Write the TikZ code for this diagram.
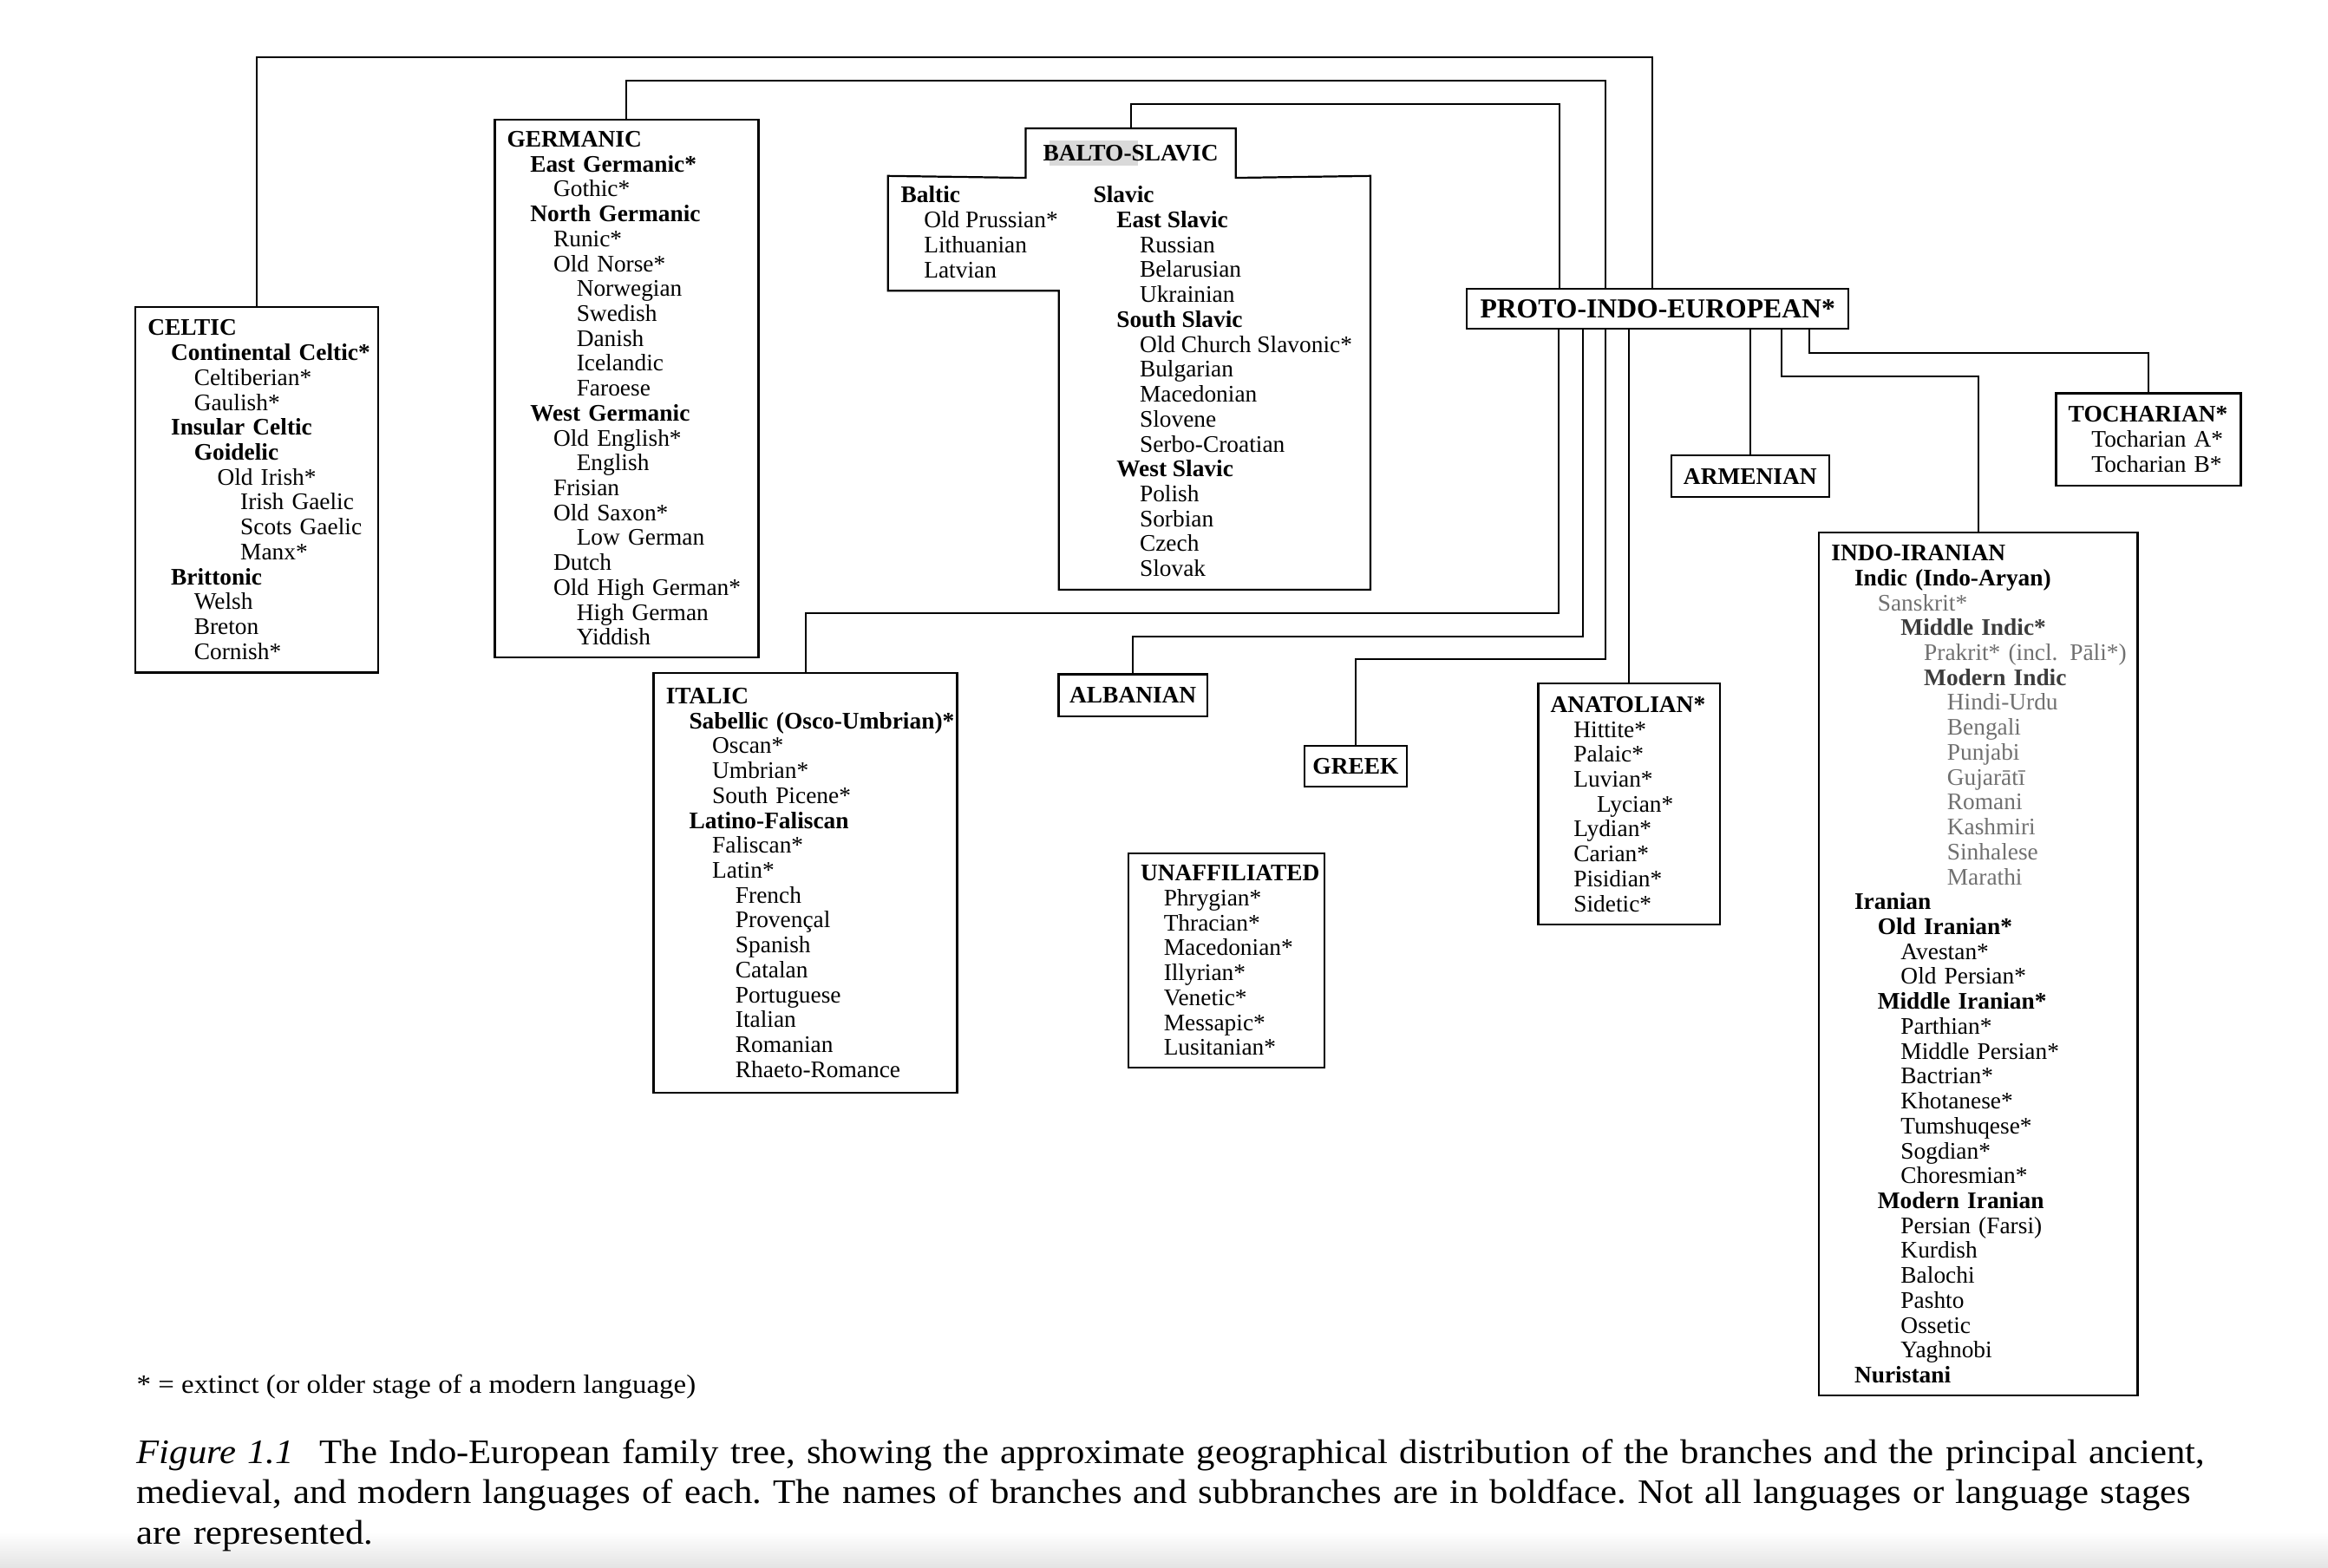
\documentclass[tikz,border=0pt]{standalone}
\usepackage{fontspec}
\setmainfont{Liberation Serif}
\newfontfamily\widefont[FakeStretch=1.08]{Liberation Serif}
\usetikzlibrary{calc}
\definecolor{cfade}{HTML}{707070}
\definecolor{cfadeb}{HTML}{3C3C3C}
\definecolor{chilite}{HTML}{D9D9D9}
\definecolor{cshadow}{HTML}{E4E4E4}
\setlength\parindent{0pt}
\newlength\indstep
\setlength\indstep{15.6pt}
\newcommand\boxfont{\fontsize{16}{16.78}\selectfont}
\newcommand\lng[2]{\mbox{\hspace*{#1\indstep}#2}}
\newcommand\grp[2]{\mbox{\hspace*{#1\indstep}\textbf{#2}}}
\tikzset{
  branch/.style={draw, anchor=north west, inner xsep=8.3pt, inner ysep=0pt, align=left, font=\boxfont},
  head/.style={draw, anchor=north west, inner sep=0pt, align=center, font=\boxfont\bfseries},
  column/.style={anchor=west, inner sep=0pt, align=left, font=\boxfont},
  link/.style={draw, line width=1.2pt},
  note/.style={anchor=base west, inner sep=0pt, font=\widefont\fontsize{17.8}{20}\selectfont},
}

\begin{document}
\begin{tikzpicture}[x=1pt, y=-1pt, line width=1.3pt]
  \useasboundingbox (0,0) rectangle (1568,1056);
  \shade[top color=white, bottom color=cshadow] (0,1032) rectangle (1568,1056);
  % root
  \node[head, font=\fontsize{18.5}{20}\selectfont\bfseries, minimum width=257.1pt, minimum height=27.1pt] (pie) at (987.3,193.8) {PROTO-INDO-EUROPEAN*};
  % branches above the root
  \node[branch, text width=146.9pt, minimum height=246.4pt] (celtic) at (90.6,206.0) {
    \grp{0}{CELTIC}\\ \grp{1}{Continental Celtic*}\\ \lng{2}{Celtiberian*}\\ \lng{2}{Gaulish*}\\
    \grp{1}{Insular Celtic}\\ \grp{2}{Goidelic}\\ \lng{3}{Old Irish*}\\ \lng{4}{Irish Gaelic}\\
    \lng{4}{Scots Gaelic}\\ \lng{4}{Manx*}\\ \grp{1}{Brittonic}\\ \lng{2}{Welsh}\\ \lng{2}{Breton}\\
    \lng{2}{Cornish*}};
  \node[branch, text width=161.0pt, minimum height=362.2pt] (germanic) at (332.6,79.8) {
    \grp{0}{GERMANIC}\\ \grp{1}{East Germanic*}\\ \lng{2}{Gothic*}\\ \grp{1}{North Germanic}\\
    \lng{2}{Runic*}\\ \lng{2}{Old Norse*}\\ \lng{3}{Norwegian}\\ \lng{3}{Swedish}\\ \lng{3}{Danish}\\
    \lng{3}{Icelandic}\\ \lng{3}{Faroese}\\ \grp{1}{West Germanic}\\ \lng{2}{Old English*}\\
    \lng{3}{English}\\ \lng{2}{Frisian}\\ \lng{2}{Old Saxon*}\\ \lng{3}{Low German}\\ \lng{2}{Dutch}\\
    \lng{2}{Old High German*}\\ \lng{3}{High German}\\ \lng{3}{Yiddish}};
  \fill[chilite] (706.6,94.5) rectangle (766.3,111.4);
  \node[anchor=north west, inner sep=0pt, minimum width=140.2pt, minimum height=32pt, font=\boxfont\bfseries] (balto) at (690.8,86.5) {BALTO-SLAVIC};
  \draw (balto.north west) -- (balto.north east) -- (balto.south east) -- (923,118.5) -- (923,397.3)
    -- (713.2,397.3) -- (713.2,195.9) -- (598.1,195.9) -- (598.1,118.5) -- (balto.south west) -- cycle;
  \node[column] (baltic) at (606.1,156.35) {
    \grp{0}{Baltic}\\ \lng{1}{Old Prussian*}\\ \lng{1}{Lithuanian}\\ \lng{1}{Latvian}};
  \node[column] (slavic) at (735.8,256.95) {
    \grp{0}{Slavic}\\ \grp{1}{East Slavic}\\ \lng{2}{Russian}\\ \lng{2}{Belarusian}\\ \lng{2}{Ukrainian}\\
    \grp{1}{South Slavic}\\ \lng{2}{Old Church Slavonic*}\\ \lng{2}{Bulgarian}\\ \lng{2}{Macedonian}\\
    \lng{2}{Slovene}\\ \lng{2}{Serbo-Croatian}\\ \grp{1}{West Slavic}\\ \lng{2}{Polish}\\
    \lng{2}{Sorbian}\\ \lng{2}{Czech}\\ \lng{2}{Slovak}};
  % branches below the root
  \node[branch, text width=187.8pt, minimum height=282.9pt] (italic) at (439.6,452.6) {
    \grp{0}{ITALIC}\\ \grp{1}{Sabellic (Osco-Umbrian)*}\\ \lng{2}{Oscan*}\\ \lng{2}{Umbrian*}\\
    \lng{2}{South Picene*}\\ \grp{1}{Latino-Faliscan}\\ \lng{2}{Faliscan*}\\ \lng{2}{Latin*}\\
    \lng{3}{French}\\ \lng{3}{Provençal}\\ \lng{3}{Spanish}\\ \lng{3}{Catalan}\\ \lng{3}{Portuguese}\\
    \lng{3}{Italian}\\ \lng{3}{Romanian}\\ \lng{3}{Rhaeto-Romance}};
  \node[head, minimum width=100.3pt, minimum height=28.2pt] (albanian) at (712.3,453.6) {ALBANIAN};
  \node[head, minimum width=68.8pt, minimum height=27.8pt] (greek) at (878,501.6) {GREEK};
  \node[branch, text width=115.7pt, minimum height=144.6pt] (unaffiliated) at (759.3,574.0) {
    \grp{0}{UNAFFILIATED}\\ \lng{1}{Phrygian*}\\ \lng{1}{Thracian*}\\ \lng{1}{Macedonian*}\\
    \lng{1}{Illyrian*}\\ \lng{1}{Venetic*}\\ \lng{1}{Messapic*}\\ \lng{1}{Lusitanian*}};
  \node[branch, text width=106.0pt, minimum height=162.3pt] (anatolian) at (1035.4,459.9) {
    \grp{0}{ANATOLIAN*}\\ \lng{1}{Hittite*}\\ \lng{1}{Palaic*}\\ \lng{1}{Luvian*}\\ \lng{2}{Lycian*}\\
    \lng{1}{Lydian*}\\ \lng{1}{Carian*}\\ \lng{1}{Pisidian*}\\ \lng{1}{Sidetic*}};
  \node[head, minimum width=106.1pt, minimum height=28.1pt] (armenian) at (1125.1,306.1) {ARMENIAN};
  \node[branch, text width=107.8pt, minimum height=62pt] (tocharian) at (1384.2,264.3) {
    \grp{0}{TOCHARIAN*}\\ \lng{1}{Tocharian A*}\\ \lng{1}{Tocharian B*}};
  \node[branch, text width=198.0pt, minimum height=581.2pt] (indoiranian) at (1224.5,358.2) {
    \grp{0}{INDO-IRANIAN}\\ \grp{1}{Indic (Indo-Aryan)}\\ \lng{2}{\color{cfade}Sanskrit*}\\
    \grp{3}{\color{cfadeb}Middle Indic*}\\ \lng{4}{\color{cfade}Prakrit* (incl. Pāli*)}\\
    \grp{4}{\color{cfadeb}Modern Indic}\\ \lng{5}{\color{cfade}Hindi-Urdu}\\ \lng{5}{\color{cfade}Bengali}\\
    \lng{5}{\color{cfade}Punjabi}\\ \lng{5}{\color{cfade}Gujarātī}\\ \lng{5}{\color{cfade}Romani}\\
    \lng{5}{\color{cfade}Kashmiri}\\ \lng{5}{\color{cfade}Sinhalese}\\ \lng{5}{\color{cfade}Marathi}\\
    \grp{1}{Iranian}\\ \grp{2}{Old Iranian*}\\ \lng{3}{Avestan*}\\ \lng{3}{Old Persian*}\\
    \grp{2}{Middle Iranian*}\\ \lng{3}{Parthian*}\\ \lng{3}{Middle Persian*}\\ \lng{3}{Bactrian*}\\
    \lng{3}{Khotanese*}\\ \lng{3}{Tumshuqese*}\\ \lng{3}{Sogdian*}\\ \lng{3}{Choresmian*}\\
    \grp{2}{Modern Iranian}\\ \lng{3}{Persian (Farsi)}\\ \lng{3}{Kurdish}\\ \lng{3}{Balochi}\\
    \lng{3}{Pashto}\\ \lng{3}{Ossetic}\\ \lng{3}{Yaghnobi}\\ \grp{1}{Nuristani}};
  % connectors over the top
  \draw[link] (celtic.north) |- (1112.9,38.4) -- (pie.north -| 1112.9,0);
  \draw[link] (germanic.north) |- (1081.4,54.1) -- (pie.north -| 1081.4,0);
  \draw[link] (balto.north) |- (1050.4,70.1) -- (pie.north -| 1050.4,0);
  % connectors underneath
  \draw[link] (pie.south -| 1049.9,0) -- (1049.9,413.1) -| (italic.north);
  \draw[link] (pie.south -| 1066.2,0) -- (1066.2,428.9) -| (albanian.north);
  \draw[link] (pie.south -| 1081.4,0) -- (1081.4,444.2) -| (greek.north);
  \draw[link] (pie.south -| anatolian.north) -- (anatolian.north);
  \draw[link] (pie.south -| armenian.north) -- (armenian.north);
  \draw[link] (pie.south -| 1199.7,0) -- (1199.7,253.6) -| (indoiranian.north);
  \draw[link] (pie.south -| 1218.6,0) -- (1218.6,238.0) -| (tocharian.north);
  % key and caption
  \node[note] (extinct) at (91.5,938.6) {* = extinct (or older stage of a modern language)};
  \node[anchor=north west, inner sep=0pt, text width=1470pt, align=left, font=\widefont\fontsize{23.1}{27.3}\selectfont\frenchspacing] (caption) at (91.5,968.7) {
    \textit{Figure 1.1}\hspace{0.75em}The Indo-European family tree, showing the approximate geographical distribution of the branches and the principal ancient,\\
    medieval, and modern languages of each. The names of branches and subbranches are in boldface. Not all languages or language stages\\
    are represented.};
\end{tikzpicture}
\end{document}
